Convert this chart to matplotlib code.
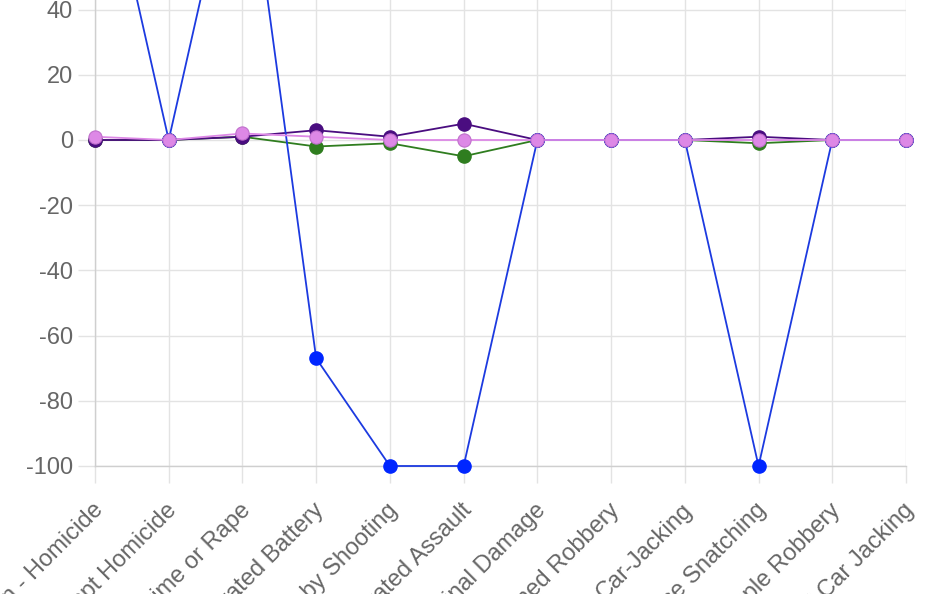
import matplotlib
matplotlib.use("Agg")
import matplotlib.pyplot as plt
import matplotlib.transforms as mtransforms

categories = ["Investigation - Homicide", "Attempt Homicide", "Sex Crime or Rape",
              "Aggravated Battery", "Battery by Shooting", "Aggravated Assault",
              "Criminal Damage", "Armed Robbery", "Car-Jacking", "Purse Snatching",
              "Simple Robbery", "Armed Car Jacking"]
blue_vals = [100, 0, 100, -67, -100, -100, 0, 0, 0, -100, 0, 0]
green_vals = [0, 0, 1, -2, -1, -5, 0, 0, 0, -1, 0, 0]
purple_vals = [0, 0, 1, 3, 1, 5, 0, 0, 0, 1, 0, 0]
pink_vals = [1, 0, 2, 1, 0, 0, 0, 0, 0, 0, 0, 0]
y_ticks = [-100, -80, -60, -40, -20, 0, 20, 40, 60, 80, 100]

plt.rcParams['font.family'] = ['Liberation Sans', 'DejaVu Sans']

W, H = 930, 594
fig = plt.figure(figsize=(W / 100, H / 100), dpi=100)
x0, x1 = 95, 906
y0px, y100px = 466, 140 - 100 * 3.26
ax = fig.add_axes([x0 / W, (H - y0px) / H, (x1 - x0) / W, (y0px - y100px) / H])

xs = list(range(len(categories)))
ms = 9.5
lw = 1.3
ax.plot(xs, green_vals, color="#2f7d1f", lw=lw, marker="o", ms=ms,
        markerfacecolor="#2f7d1f", markeredgecolor="#2f7d1f", zorder=3, clip_on=False)
ax.plot(xs, purple_vals, color="#4a0d80", lw=lw, marker="o", ms=ms,
        markerfacecolor="#4a0d80", markeredgecolor="#4a0d80", zorder=4, clip_on=False)
ax.plot(xs, blue_vals, color="#1c3ae0", lw=lw, marker="o", ms=ms,
        markerfacecolor="#0026ff", markeredgecolor="#0026ff", zorder=5, clip_on=False)
ax.plot(xs, pink_vals, color="#dd88e6", lw=lw, marker="o", ms=ms,
        markerfacecolor="#dd88e6", markeredgecolor="#c070cc", markeredgewidth=0.8,
        zorder=6, clip_on=False)

ax.set_xlim(0, len(categories) - 1)
ax.set_ylim(-100, 100)
ax.set_yticks(y_ticks)
ax.set_yticklabels([str(v) for v in y_ticks])
ax.set_xticks(xs)
ax.set_xticklabels(categories, rotation=45, ha="right", va="top", rotation_mode="anchor")

ax.grid(True, color="#e3e3e3", lw=1.0)
ax.set_axisbelow(True)
for s in ["top", "right"]:
    ax.spines[s].set_visible(False)
for s in ["left", "bottom"]:
    ax.spines[s].set_color("#cfcfcf")
    ax.spines[s].set_linewidth(1.0)
ax.tick_params(axis="both", colors="#e3e3e3", length=12, width=1.0,
               labelcolor="#666666", labelsize=17)
ax.tick_params(axis="y", pad=4)
ax.tick_params(axis="x", pad=4)

offset = mtransforms.ScaledTranslation(-3 / 100, -11 / 100, fig.dpi_scale_trans)
for lbl in ax.get_xticklabels():
    lbl.set_transform(lbl.get_transform() + offset)

fig.savefig("out.png", dpi=100)
